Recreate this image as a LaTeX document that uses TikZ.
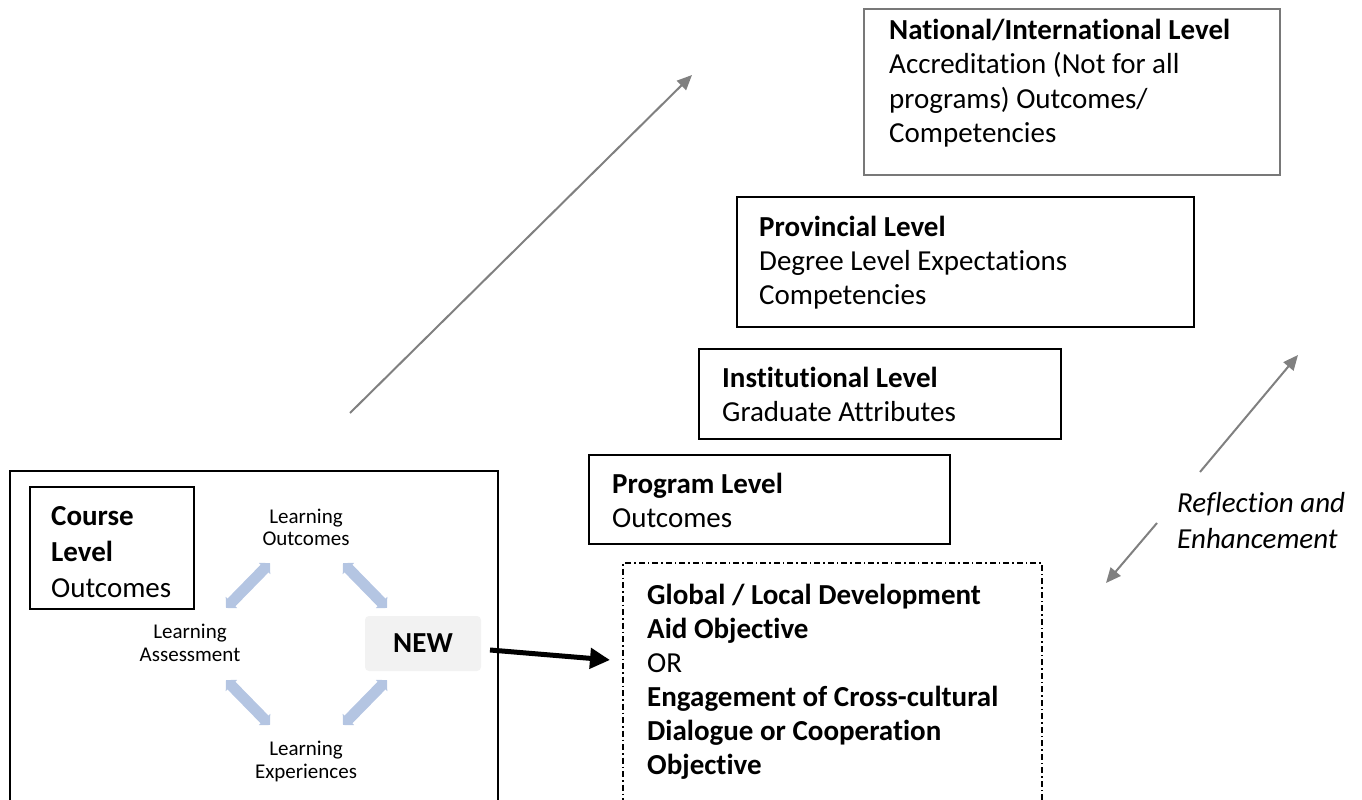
\documentclass[tikz,border=0pt]{standalone}
\usepackage{fontspec}
\setmainfont{Carlito}[Ligatures={NoCommon}]
\usetikzlibrary{arrows.meta}
\definecolor{bluearr}{RGB}{180,197,226}
\definecolor{newfill}{RGB}{242,242,242}
\definecolor{arrgray}{RGB}{128,128,128}
\definecolor{natgray}{RGB}{120,120,120}
\begin{document}
\begin{tikzpicture}[x=1pt,y=-1pt,
  box/.style={draw=black, line width=1.6pt, anchor=north west, inner sep=0pt, outer sep=0pt},
  txt/.style={font=\fontsize{29}{34}\selectfont, inner sep=0pt, anchor=base west},
  btxt/.style={font=\fontsize{29}{34}\selectfont\bfseries, inner sep=0pt, anchor=base west},
  itxt/.style={font=\fontsize{29}{34}\selectfont\itshape, inner sep=0pt, anchor=base west},
  stxt/.style={font=\fontsize{21}{23}\selectfont, inner sep=0pt, anchor=base},
  bluearrow/.style={draw=bluearr, line width=11pt, {Triangle[angle=90:11pt]}-{Triangle[angle=90:11pt]}},
  grayarrow/.style={draw=arrgray, line width=2pt, -{Triangle[length=15pt,width=13pt]}},
  blackarrow/.style={draw=black, line width=5pt, -{Triangle[length=20pt,width=20pt]}}
]
\useasboundingbox (0,0) rectangle (1362,800);

% National box
\node[box, draw=natgray, line width=2pt, minimum width=416pt, minimum height=166pt] (nat) at (864,9) {};
\node[btxt] (nat1) at (889,40) {National/International Level};
\node[txt] (nat2) at (889,74) {Accreditation (Not for all};
\node[txt] (nat3) at (889,108) {programs) Outcomes/};
\node[txt] (nat4) at (889,142) {Competencies};

% Provincial box
\node[box, minimum width=457pt, minimum height=130pt] (prov) at (737,197) {};
\node[btxt] (prov1) at (759,236) {Provincial Level};
\node[txt] (prov2) at (759,270) {Degree Level Expectations};
\node[txt] (prov3) at (759,304) {Competencies};

% Institutional box
\node[box, minimum width=362pt, minimum height=90pt] (inst) at (699,349) {};
\node[btxt] (inst1) at (722,387) {Institutional Level};
\node[txt] (inst2) at (722,421) {Graduate Attributes};

% Program box
\node[box, minimum width=361pt, minimum height=89pt] (prog) at (589,455) {};
\node[btxt] (prog1) at (612,493) {Program Level};
\node[txt] (prog2) at (612,527) {Outcomes};

% Dashed box
\node[box, line width=1.5pt, dash pattern=on 6pt off 3pt on 1.5pt off 3pt, minimum width=419pt, minimum height=250pt] (dash) at (623,563) {};
\node[btxt] (d1) at (647,604) {Global / Local Development};
\node[btxt] (d2) at (647,638) {Aid Objective};
\node[txt] (d3) at (647,672) {OR};
\node[btxt] (d4) at (647,706) {Engagement of Cross-cultural};
\node[btxt] (d5) at (647,740) {Dialogue or Cooperation};
\node[btxt] (d6) at (647,774) {Objective};

% Big left box
\node[box, minimum width=488pt, minimum height=345pt] (big) at (10,471) {};
\node[box, minimum width=164pt, minimum height=122pt] (course) at (30,487) {};
\node[btxt] (c1) at (51,525) {Course};
\node[btxt] (c2) at (51,561) {Level};
\node[txt] (c3) at (51,597) {Outcomes};

% Cycle texts
\node[stxt] (lo1) at (306,523) {Learning};
\node[stxt] (lo2) at (306,545) {Outcomes};
\node[stxt] (la1) at (190,638) {Learning};
\node[stxt] (la2) at (190,661) {Assessment};
\node[stxt] (le1) at (306,755) {Learning};
\node[stxt] (le2) at (306,778) {Experiences};

% NEW box
\node[fill=newfill, rounded corners=4pt, minimum width=116pt, minimum height=55pt, inner sep=0pt,
      font=\fontsize{29}{34}\selectfont\bfseries] (new) at (423,643.5) {NEW};

% Blue arrows
\coordinate (b1s) at (226,608); \coordinate (b1e) at (270,563);
\coordinate (b2s) at (343,563); \coordinate (b2e) at (387,608);
\coordinate (b3s) at (226,680); \coordinate (b3e) at (270,725);
\coordinate (b4s) at (387,680); \coordinate (b4e) at (343,725);
\draw[bluearrow] (b1s) -- (b1e);
\draw[bluearrow] (b2s) -- (b2e);
\draw[bluearrow] (b3s) -- (b3e);
\draw[bluearrow] (b4s) -- (b4e);

% Black arrow NEW -> dashed box
\coordinate (ks) at (490,650);
\coordinate (ke) at (610,660);
\draw[blackarrow] (ks) -- (ke);

% Gray arrows
\coordinate (g1s) at (350,413); \coordinate (g1e) at (692,75);
\draw[grayarrow] (g1s) -- (g1e);
\coordinate (r1s) at (1200,472); \coordinate (r1e) at (1298,355);
\draw[grayarrow] (r1s) -- (r1e);
\coordinate (r2s) at (1157,523); \coordinate (r2e) at (1106,583);
\draw[grayarrow] (r2s) -- (r2e);

% Reflection text
\node[itxt] (ref1) at (1177,512) {Reflection and};
\node[itxt] (ref2) at (1177,548) {Enhancement};
\end{tikzpicture}
\end{document}
